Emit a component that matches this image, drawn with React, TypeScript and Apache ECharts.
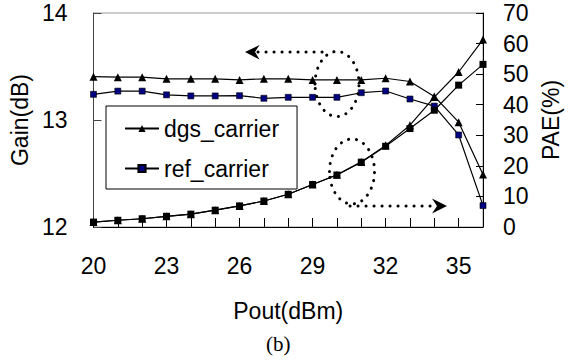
import React, { useEffect, useRef } from "react";
import * as echarts from "echarts";

const pout = [20, 21, 22, 23, 24, 25, 26, 27, 28, 29, 30, 31, 32, 33, 34, 35, 36];
const xTickLabels = [20, 23, 26, 29, 32, 35];
const gainDgs = [13.405, 13.4, 13.4, 13.385, 13.385, 13.385, 13.375, 13.385, 13.385, 13.375, 13.375, 13.375, 13.39, 13.36, 13.22, 12.98, 12.49];
const gainRef = [13.24, 13.27, 13.27, 13.235, 13.225, 13.225, 13.227, 13.203, 13.212, 13.212, 13.212, 13.255, 13.271, 13.196, 13.13, 12.86, 12.2];
const paeDgs = [1.6, 2.2, 2.7, 3.5, 4.2, 5.5, 6.9, 8.5, 10.7, 13.9, 17.1, 21.3, 26.7, 33.3, 42.5, 50.7, 61.3];
const paeRef = [1.6, 2.2, 2.7, 3.5, 4.2, 5.5, 6.9, 8.5, 10.7, 13.9, 17.0, 21.2, 26.4, 32.2, 38.2, 46.4, 53.2];
const seriesNames = ["dgs_carrier", "ref_carrier"];

const FONT = "'Liberation Sans', Arial, sans-serif";

export default function App() {
  const ref = useRef<HTMLDivElement>(null);
  useEffect(() => {
    if (!ref.current) return;
    const chart = echarts.init(ref.current, null, { renderer: "svg" });
    const pair = (ys: number[]) => pout.map((x, i) => [x, ys[i]]);
    const dotted = {
      fill: "none",
      stroke: "#000",
      lineWidth: 3,
      lineDash: [0.1, 7.9],
      lineCap: "round",
    };
    chart.setOption({
      animation: false,
      backgroundColor: "#fff",
      textStyle: { fontFamily: FONT },
      grid: {
        left: 93,
        right: 88,
        top: 13,
        bottom: 134,
        show: true,
        borderColor: "#999",
        borderWidth: 1,
        backgroundColor: "transparent",
      },
      legend: {
        data: seriesNames,
        orient: "vertical",
        left: 106,
        top: 106,
        padding: [11, 18, 9, 18],
        itemGap: 17,
        itemWidth: 34,
        itemHeight: 9,
        backgroundColor: "#fff",
        borderColor: "#000",
        borderWidth: 1,
        borderRadius: 0,
        textStyle: { fontSize: 23, fontFamily: FONT, color: "#000", lineHeight: 23 },
      },
      xAxis: {
        type: "value",
        min: 20,
        max: 36,
        interval: 1,
        name: "Pout(dBm)",
        nameLocation: "middle",
        nameGap: 72,
        nameTextStyle: { fontSize: 23, fontFamily: FONT, color: "#000" },
        axisLine: { show: true, lineStyle: { color: "#000", width: 1 } },
        axisTick: { show: true, inside: true, length: 9, lineStyle: { color: "#000" } },
        axisLabel: {
          fontSize: 23,
          fontFamily: FONT,
          color: "#000",
          margin: 27,
          showMinLabel: true,
          showMaxLabel: true,
          formatter: (v: number) => (xTickLabels.includes(v) ? String(v) : ""),
        },
        splitLine: { show: false },
      },
      yAxis: [
        {
          type: "value",
          min: 12,
          max: 14,
          interval: 1,
          position: "left",
          name: "Gain(dB)",
          nameLocation: "middle",
          nameRotate: 90,
          nameGap: 57,
          nameTextStyle: { fontSize: 23, fontFamily: FONT, color: "#000" },
          axisLine: { show: true, lineStyle: { color: "#444", width: 1 } },
          axisTick: { show: true, inside: true, length: 8, lineStyle: { color: "#444" } },
          axisLabel: { fontSize: 23, fontFamily: FONT, color: "#000", margin: 26 },
          splitLine: { show: false },
        },
        {
          type: "value",
          min: 0,
          max: 70,
          interval: 10,
          position: "right",
          name: "PAE(%)",
          nameLocation: "middle",
          nameRotate: 90,
          nameGap: 56,
          nameTextStyle: { fontSize: 23, fontFamily: FONT, color: "#000" },
          axisLine: { show: true, lineStyle: { color: "#000", width: 1 } },
          axisTick: { show: true, inside: true, length: 7, lineStyle: { color: "#000" } },
          axisLabel: { fontSize: 23, fontFamily: FONT, color: "#000", margin: 20 },
          splitLine: { show: false },
        },
      ],
      series: [
        {
          name: "ref_carrier",
          type: "line",
          yAxisIndex: 0,
          data: pair(gainRef),
          symbol: "rect",
          symbolSize: 6,
          itemStyle: { color: "#000080", borderColor: "#000", borderWidth: 0.6 },
          lineStyle: { color: "#000", width: 1.2 },
          z: 3,
        },
        {
          name: "dgs_carrier",
          type: "line",
          yAxisIndex: 0,
          data: pair(gainDgs),
          symbol: "triangle",
          symbolSize: 8,
          itemStyle: { color: "#000" },
          lineStyle: { color: "#000", width: 1.2 },
          z: 3,
        },
        {
          name: "dgs_carrier",
          type: "line",
          yAxisIndex: 1,
          data: pair(paeDgs),
          symbol: "triangle",
          symbolSize: 8,
          itemStyle: { color: "#000" },
          lineStyle: { color: "#000", width: 1.2 },
          z: 3,
        },
        {
          name: "ref_carrier",
          type: "line",
          yAxisIndex: 1,
          data: pair(paeRef),
          symbol: "rect",
          symbolSize: 7,
          itemStyle: { color: "#000" },
          lineStyle: { color: "#000", width: 1.2 },
          z: 3,
        },
      ],
      graphic: [
        { type: "ellipse", shape: { cx: 337, cy: 84, rx: 22, ry: 32.5 }, style: dotted, z: 10 },
        { type: "polyline", shape: { points: [[258, 52], [330, 52]] }, style: dotted, z: 10 },
        {
          type: "polygon",
          shape: { points: [[245, 52], [259.5, 45], [255, 52], [259.5, 59.5]] },
          style: { fill: "#000" },
          z: 10,
        },
        { type: "ellipse", shape: { cx: 352, cy: 171.5, rx: 22.5, ry: 32.5 }, style: dotted, z: 10 },
        { type: "polyline", shape: { points: [[350, 206], [434, 206]] }, style: dotted, z: 10 },
        {
          type: "polygon",
          shape: { points: [[447, 206], [432, 198.5], [437, 206], [432, 213.5]] },
          style: { fill: "#000" },
          z: 10,
        },
        {
          type: "text",
          left: 266,
          top: 333,
          style: {
            text: "(b)",
            fontSize: 21,
            fontFamily: "'Liberation Serif', 'Times New Roman', serif",
            fill: "#000",
          },
        },
      ],
    });
    return () => chart.dispose();
  }, []);
  return (
    <div
      ref={ref}
      style={{ position: "fixed", left: 0, top: 0, width: 571, height: 361 }}
    />
  );
}
